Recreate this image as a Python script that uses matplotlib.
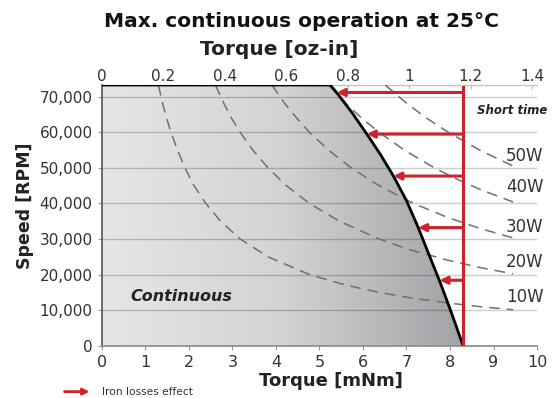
import numpy as np
import matplotlib
matplotlib.use("Agg")
import matplotlib.pyplot as plt
from matplotlib.colors import LinearSegmentedColormap
from matplotlib.patches import Polygon, FancyArrowPatch
from matplotlib.ticker import FuncFormatter

# continuous operation envelope (torque mNm, speed rpm)
env_torque = [0, 5.25, 5.40, 5.75, 6.09, 6.40, 6.70, 7.00, 7.27, 7.52, 7.78, 8.04, 8.30]
env_speed = [73300, 73300, 71100, 65500, 59500, 53800, 47700, 40800, 33200, 25500, 17600, 9000, 0]

# constant power lines
p10_torque = [1.30, 1.40, 1.49, 1.59, 1.74, 1.91, 2.12, 2.39, 2.73, 3.18, 3.82, 4.77, 5.62, 6.37, 7.07, 7.96, 8.68, 9.45]
p10_speed = [73300, 68000, 64000, 60000, 55000, 50000, 45000, 40000, 35000, 30000, 25000, 20000, 17000, 15000, 13500, 12000, 11000, 10100]
p20_torque = [2.61, 2.81, 2.98, 3.18, 3.47, 3.82, 4.24, 4.77, 5.46, 6.37, 7.07, 7.96, 8.68, 9.45]
p20_speed = [73300, 68000, 64000, 60000, 55000, 50000, 45000, 40000, 35000, 30000, 27000, 24000, 22000, 20200]
p30_torque = [3.91, 4.21, 4.48, 4.77, 5.21, 5.73, 6.37, 7.16, 7.96, 8.68, 9.45]
p30_speed = [73300, 68000, 64000, 60000, 55000, 50000, 45000, 40000, 36000, 33000, 30300]
p40_torque = [5.21, 5.62, 5.97, 6.37, 6.95, 7.64, 8.13, 8.68, 9.45]
p40_speed = [73300, 68000, 64000, 60000, 55000, 50000, 47000, 44000, 40400]
p50_torque = [6.51, 7.02, 7.46, 7.96, 8.68, 9.45]
p50_speed = [73300, 68000, 64000, 60000, 55000, 50500]
power_labels = ["10W", "20W", "30W", "40W", "50W"]
label_speed = [13700, 23500, 33400, 44600, 53300]

# iron losses arrows
arrow_speed = [71200, 59500, 47700, 33200, 18400]
arrow_tip = [5.40, 6.09, 6.70, 7.27, 7.76]
short_time_torque = 8.30

OZIN = 7.0615  # mNm per oz-in
RED = "#d0222a"

fig = plt.figure(figsize=(5.56, 3.98), dpi=100)
ax = fig.add_axes([0.183, 0.1314, 0.783, 0.655])
ax.set_xlim(0, 10)
ax.set_ylim(0, 73300)

# gradient fill under envelope
cmap = LinearSegmentedColormap.from_list("g", ["#e6e6e8", "#d3d3d5", "#a2a2a6"])
grad = np.linspace(0, 1, 256).reshape(1, -1)
im = ax.imshow(grad, cmap=cmap, aspect="auto", extent=[0, max(env_torque), 0, 73300],
               origin="lower", zorder=1)
poly = Polygon(list(zip(env_torque, env_speed)) + [(0, 0)], closed=True,
               facecolor="none", edgecolor="none", transform=ax.transData)
ax.add_patch(poly)
im.set_clip_path(poly)

# grid
for yv in range(10000, 80000, 10000):
    ax.axhline(yv, color="k", alpha=0.2, lw=1.0, zorder=2)

# power curves
for t, s in [(p10_torque, p10_speed), (p20_torque, p20_speed), (p30_torque, p30_speed),
             (p40_torque, p40_speed), (p50_torque, p50_speed)]:
    ax.plot(t, s, color="#707070", lw=1.1, dashes=(7, 4.5), zorder=3)
for lab, yv in zip(power_labels, label_speed):
    ax.text(9.29, yv, lab, fontsize=12, color="#333333", va="center", ha="left")

ax.plot(env_torque, env_speed, color="black", lw=2, zorder=5)

# red arrows
ax.plot([short_time_torque, short_time_torque], [0, 72800], color=RED, lw=2.2, zorder=6)
for yv, xt in zip(arrow_speed, arrow_tip):
    ax.annotate("", xy=(xt, yv), xytext=(short_time_torque, yv),
                arrowprops=dict(arrowstyle="-|>", color=RED, lw=2.2,
                                mutation_scale=11, shrinkA=0, shrinkB=0), zorder=6)

ax.text(1.83, 13700, "Continuous", fontsize=11.5, fontweight="bold", style="italic",
        color="#222222", ha="center", va="center")
ax.text(9.42, 66000, "Short time", fontsize=8.5, fontweight="bold", style="italic",
        color="#222222", ha="center", va="center")

# axes styling
ax.spines["right"].set_visible(False)
ax.spines["top"].set_color("#c0c0c0")
ax.spines["left"].set_color("#555555")
ax.spines["bottom"].set_color("#888888")
ax.spines["left"].set_linewidth(1.2)
ax.spines["bottom"].set_linewidth(1.2)

ax.set_xticks(range(0, 11))
ax.set_yticks(range(0, 80000, 10000))
ax.yaxis.set_major_formatter(FuncFormatter(lambda v, p: f"{int(v):,}"))
ax.tick_params(axis="both", length=3, color="#999999", labelcolor="#333333")
ax.tick_params(axis="y", labelsize=11)
ax.tick_params(axis="x", labelsize=11.5, pad=4)
ax.set_xlabel("Torque [mNm]", fontsize=13, fontweight="bold", color="#222222", labelpad=1)
ax.xaxis.label.set_x(0.527)
ax.set_ylabel("Speed [RPM]", fontsize=12.5, fontweight="bold", color="#222222", labelpad=4)
ax.yaxis.label.set_y(0.536)

sec = ax.secondary_xaxis("top", functions=(lambda x: x / OZIN, lambda x: x * OZIN))
sec.set_xticks([0, 0.2, 0.4, 0.6, 0.8, 1, 1.2, 1.4])
sec.set_xticklabels(["0", "0.2", "0.4", "0.6", "0.8", "1", "1.2", "1.4"])
sec.tick_params(length=3, direction="in", color="#bbbbbb", labelsize=11,
                labelcolor="#333333", pad=0.5)
sec.spines["top"].set_color("#c0c0c0")
sec.set_xlabel("Torque [oz-in]", fontsize=14.5, fontweight="bold", color="#222222", labelpad=10)
sec.xaxis.label.set_x(0.407)

fig.text(0.543, 0.945, "Max. continuous operation at 25°C", fontsize=14.5, fontweight="bold",
         color="#111111", ha="center", va="center")

# legend for iron losses
fig.patches.append(FancyArrowPatch(
    (0.111, 0.016), (0.166, 0.016), transform=fig.transFigure, arrowstyle="-|>",
    color=RED, lw=2, mutation_scale=9))
fig.text(0.183, 0.016, "Iron losses effect", fontsize=7.7, color="#333333", va="center")

fig.savefig("out.png", dpi=100)
